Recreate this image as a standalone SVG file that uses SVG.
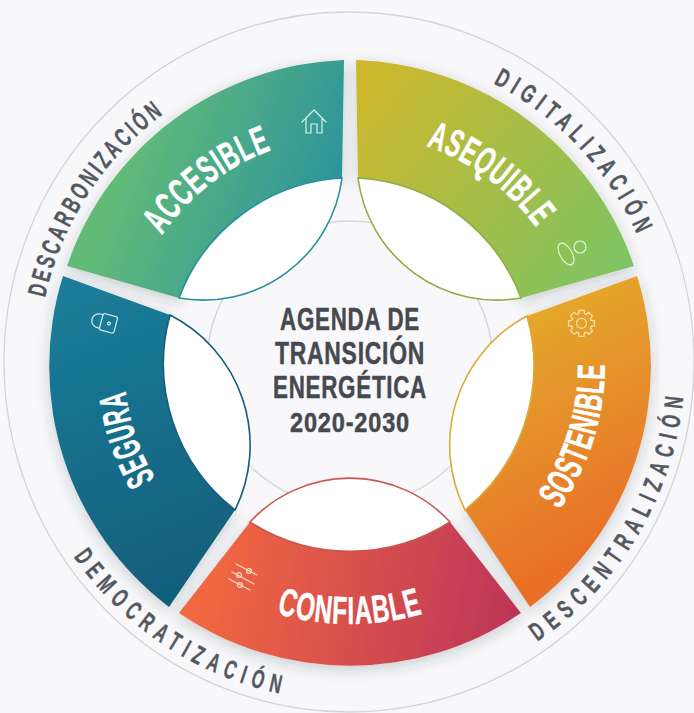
<svg xmlns="http://www.w3.org/2000/svg" width="694" height="713" viewBox="0 0 694 713">
<style>
text{font-family:"Liberation Sans",Arial,sans-serif;font-weight:700}
.name{fill:#fff;stroke:#fff;stroke-width:.5;font-size:39px;text-anchor:middle;letter-spacing:1.5px}
.ring{fill:#55585e;stroke:#55585e;stroke-width:.4;font-size:26px;text-anchor:middle}
.title{fill:#46494e;stroke:#46494e;stroke-width:.5;font-size:31px;text-anchor:middle;letter-spacing:1px}
.lens{fill:#fff;stroke-width:1.6}
.ico{fill:none;stroke-width:1.2;stroke-linecap:round;stroke-linejoin:round}
.guide{fill:none;stroke:#d3d4d6;stroke-width:1.3}
</style>
<defs>
<linearGradient id="gA" gradientUnits="userSpaceOnUse" x1="130" y1="140" x2="345" y2="220"><stop offset="0" stop-color="#63bb78"/><stop offset="1" stop-color="#28909f"/></linearGradient>
<linearGradient id="gB" gradientUnits="userSpaceOnUse" x1="360" y1="90" x2="620" y2="280"><stop offset="0" stop-color="#cdb72c"/><stop offset="1" stop-color="#7dc463"/></linearGradient>
<linearGradient id="gC" gradientUnits="userSpaceOnUse" x1="500" y1="320" x2="620" y2="540"><stop offset="0" stop-color="#e3aa2b"/><stop offset="1" stop-color="#e96f28"/></linearGradient>
<linearGradient id="gD" gradientUnits="userSpaceOnUse" x1="190" y1="560" x2="510" y2="620"><stop offset="0" stop-color="#f46b3f"/><stop offset="1" stop-color="#bd3658"/></linearGradient>
<linearGradient id="gE" gradientUnits="userSpaceOnUse" x1="70" y1="290" x2="190" y2="590"><stop offset="0" stop-color="#1b7d9a"/><stop offset="1" stop-color="#115e7b"/></linearGradient>
<filter id="sh" x="-20%" y="-20%" width="140%" height="140%"><feDropShadow dx="0" dy="4" stdDeviation="7" flood-color="#20303a" flood-opacity="0.22"/></filter>
<path id="t1" d="M127.2 315.8A228 228 0 0 1 358.8 136.2"/>
<path id="t2" d="M336.3 133.4A231 231 0 0 1 574.7 310.5"/>
<path id="t3" d="M487.4 578.8A255 255 0 0 0 585.4 266"/>
<path id="t4" d="M182.9 563.2A260 260 0 0 0 517.1 563.2"/>
<path id="t5" d="M232.3 556.9A226 226 0 0 1 139.6 281.5"/>
<path id="r1" d="M40.3 402A312 312 0 0 1 258.8 65.6"/>
<path id="r2" d="M387.6 51.2A315 315 0 0 1 664.5 346.7"/>
<path id="r3" d="M463.2 679.3A335 335 0 0 0 680.1 307.3"/>
<path id="r4" d="M27.7 462.5A337 337 0 0 0 391.1 698.5"/>
<path id="tooth" d="M-3-9.6L-2.5-13H2.5L3-9.6A10 10 0 0 1 4.67-8.9"/>
</defs>
<rect width="694" height="713" fill="#f8f8fb"/>
<ellipse class="guide" cx="349" cy="362" rx="345" ry="350"/>
<circle class="guide" cx="350" cy="364" r="143"/>

<g id="node-accesible">
<path filter="url(#sh)" fill="url(#gA)" d="M344 60A304 304 0 0 0 67 266L179 298A185 185 0 0 1 342 178Z"/>
<path class="lens" stroke="#2a8f9d" d="M179 298A185 185 0 0 1 342 178A140 140 0 0 1 179 298Z"/>
<text class="name" textLength="142" lengthAdjust="spacingAndGlyphs"><textPath href="#t1" startOffset="50%">ACCESIBLE</textPath></text>
<path class="ico" stroke="#d6f3ee" d="M302 122L314 110L326 122M306 119V133H311V124H317V133H322V119"/>
</g>
<g id="node-asequible">
<path filter="url(#sh)" fill="url(#gB)" d="M356 60A304 304 0 0 1 634 266L521 298A185 185 0 0 0 358 178Z"/>
<path class="lens" stroke="#8fae45" d="M521 298A185 185 0 0 0 358 178A140 140 0 0 0 521 298Z"/>
<text class="name" textLength="140" lengthAdjust="spacingAndGlyphs"><textPath href="#t2" startOffset="50%">ASEQUIBLE</textPath></text>
<g class="ico" stroke="#e6f4d6"><ellipse cx="566" cy="254" rx="6" ry="12" transform="rotate(-30 566 254)"/><circle cx="580" cy="247" r="6"/></g>
</g>
<g id="node-sostenible">
<path filter="url(#sh)" fill="url(#gC)" d="M637 276A300 300 0 0 1 530 607L465 510A185 185 0 0 0 527 316Z"/>
<path class="lens" stroke="#dcaa3a" d="M465 510A185 185 0 0 0 527 316A146 146 0 0 0 465 510Z"/>
<text class="name" textLength="155" lengthAdjust="spacingAndGlyphs"><textPath href="#t3" startOffset="50%">SOSTENIBLE</textPath></text>
<g class="ico" stroke="#f7e2b0" transform="translate(581.5 323.3)"><circle r="5"/><use href="#tooth"/><use href="#tooth" transform="rotate(45)"/><use href="#tooth" transform="rotate(90)"/><use href="#tooth" transform="rotate(135)"/><use href="#tooth" transform="rotate(180)"/><use href="#tooth" transform="rotate(225)"/><use href="#tooth" transform="rotate(270)"/><use href="#tooth" transform="rotate(315)"/></g>
</g>
<g id="node-confiable">
<path filter="url(#sh)" fill="url(#gD)" d="M521 613A304 304 0 0 1 179 613L250 522A185 185 0 0 0 450 522Z"/>
<path class="lens" stroke="#c9564f" d="M250 522A185 185 0 0 0 450 522A136 136 0 0 0 250 522Z"/>
<text class="name" textLength="149" lengthAdjust="spacingAndGlyphs"><textPath href="#t4" startOffset="50%">CONFIABLE</textPath></text>
<g class="ico" stroke="#fbd8c6"><path d="M236 564L257 575M232 572L254 584M229 579L250 590"/><circle cx="249" cy="571" r="2.4"/><circle cx="239" cy="575" r="2.4"/><circle cx="240" cy="585" r="2.4"/></g>
</g>
<g id="node-segura">
<path filter="url(#sh)" fill="url(#gE)" d="M169 607A302 302 0 0 1 63 276L170 315A185 185 0 0 0 235 510Z"/>
<path class="lens" stroke="#155f7c" d="M235 510A185 185 0 0 1 170 315A146 146 0 0 1 235 510Z"/>
<text class="name" textLength="94" lengthAdjust="spacingAndGlyphs"><textPath href="#t5" startOffset="50%">SEGURA</textPath></text>
<g class="ico" stroke="#cfeef2" transform="rotate(15 107 323)"><rect x="101" y="314.500" width="15" height="17" rx="2"/><path d="M101 316H98.500A7 7 0 0 0 98.500 330H101"/><circle cx="109" cy="323" r="1.400"/></g>
</g>
<g id="node-center">
<text class="title" x="350" y="330" textLength="140" lengthAdjust="spacingAndGlyphs">AGENDA DE</text>
<text class="title" x="350" y="364" textLength="150" lengthAdjust="spacingAndGlyphs">TRANSICIÓN</text>
<text class="title" x="350" y="398" textLength="154" lengthAdjust="spacingAndGlyphs">ENERGÉTICA</text>
<text class="title" x="350" y="432" style="font-size:28px" textLength="120" lengthAdjust="spacingAndGlyphs">2020-2030</text>
</g>
<g id="node-ring-labels">
<text class="ring" style="letter-spacing:5px" textLength="226" lengthAdjust="spacingAndGlyphs"><textPath href="#r1" startOffset="50%">DESCARBONIZACIÓN</textPath></text>
<text class="ring" style="letter-spacing:9px" textLength="218" lengthAdjust="spacingAndGlyphs"><textPath href="#r2" startOffset="50%">DIGITALIZACIÓN</textPath></text>
<text class="ring" style="letter-spacing:11px" textLength="301" lengthAdjust="spacingAndGlyphs"><textPath href="#r3" startOffset="50%">DESCENTRALIZACIÓN</textPath></text>
<text class="ring" style="letter-spacing:11px" textLength="260" lengthAdjust="spacingAndGlyphs"><textPath href="#r4" startOffset="50%">DEMOCRATIZACIÓN</textPath></text>
</g>
</svg>
